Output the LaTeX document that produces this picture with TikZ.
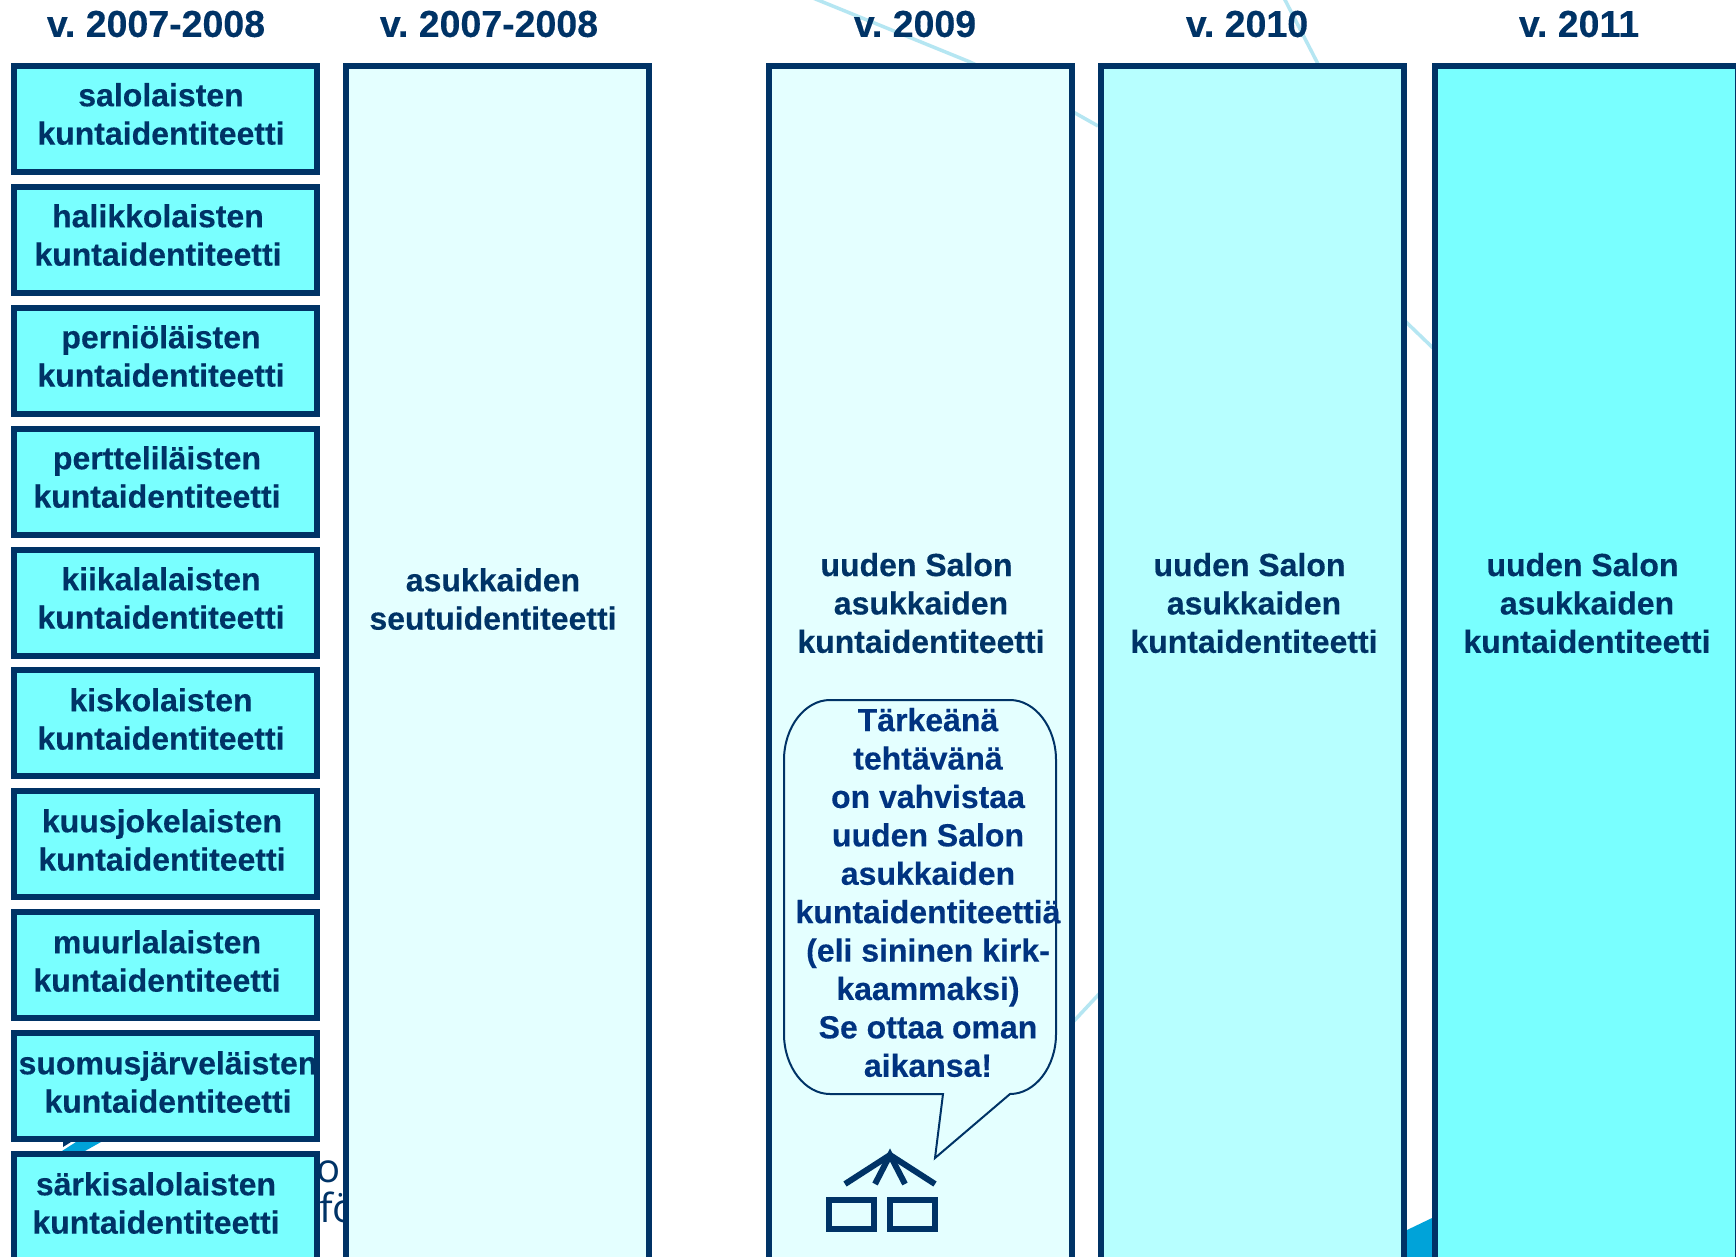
\documentclass[tikz,border=0pt]{standalone}
\usepackage{fontspec}
\setmainfont{Liberation Sans}[BoldFeatures={FakeBold=0.3}]
\newfontfamily\fragfont{Open Sans}
\frenchspacing
\definecolor{navy}{HTML}{003366}
\definecolor{calltext}{HTML}{003380}
\definecolor{paleA}{HTML}{E4FFFF}
\definecolor{paleB}{HTML}{B7FFFF}
\definecolor{paleC}{HTML}{79FFFF}
\definecolor{bgline}{HTML}{B5E6F2}
\definecolor{bgblue}{HTML}{00A3D9}
\tikzset{
  idbox/.style={draw=navy,line width=6pt,fill=paleC,minimum width=303pt,minimum height=106pt,inner sep=0pt,anchor=north west},
  yearcol/.style={draw=navy,line width=6pt,minimum width=303pt,minimum height=1300pt,inner sep=0pt,anchor=north west},
  lbl/.style={text=navy,align=center,inner sep=0pt,font=\fontsize{32}{38.4}\selectfont\bfseries,anchor=center},
  head/.style={text=navy,inner sep=0pt,font=\fontsize{37.5}{40}\selectfont\bfseries,anchor=center},
  bgstroke/.style={draw=bgline,line width=3.5pt},
  hidden/.style={text=navy,inner sep=0pt,font=\fontsize{40}{50}\selectfont\fragfont,anchor=base west},
  icon/.style={draw=navy,line width=6pt}
}
\begin{document}
\begin{tikzpicture}[x=1pt,y=-1pt]
\useasboundingbox (0,0) rectangle (1736,1257);
% background fragments
\fill[white] (0,0) rectangle (1736,1257);
\draw[bgstroke] (813,-2) -- (970,62) -- (1075,113) -- (1098,126);
\draw[bgstroke] (1284,-2) -- (1318,64);
\draw[bgstroke] (1405,321) -- (1434,349);
\draw[bgstroke] (1073,1022) -- (1100,993);
\fill[bgblue] (1407,1230) -- (1432,1218) -- (1432,1257) -- (1407,1257) -- cycle;
\fill[navy] (63,1142) -- (71,1142) -- (63,1147) -- cycle;
\fill[bgblue] (62,1151) -- (76,1142) -- (101,1142) -- (85,1151) -- cycle;
\node[hidden] (fragO) at (316,1182) {o};
\node[hidden] (fragF) at (319,1222) {fö};
% left boxes
\foreach \n/\yy in {1/63,2/184,3/305,4/426,5/547,6/667,7/788,8/909,9/1030,10/1151}
  \node[idbox] (b\n) at (10.5,\yy) {};
% columns
\node[yearcol,fill=paleA] (c2) at (343,63) {};
\node[yearcol,fill=paleA] (c3) at (766,63) {};
\node[yearcol,fill=paleB] (c4) at (1098,63) {};
\node[yearcol,fill=paleC] (c5) at (1432,63) {};
% headers
\node[head] (h1) at (156,24) {v. 2007-2008};
\node[head] (h2) at (489,24) {v. 2007-2008};
\node[head] (h3) at (915,24) {v. 2009};
\node[head] (h4) at (1247,24) {v. 2010};
\node[head] (h5) at (1579,24) {v. 2011};
% box labels
\node[lbl] (t1) at (161,114) {salolaisten\\kuntaidentiteetti};
\node[lbl] (t2) at (158,235) {halikkolaisten\\kuntaidentiteetti};
\node[lbl] (t3) at (161,356) {perniöläisten\\kuntaidentiteetti};
\node[lbl] (t4) at (157,477) {pertteliläisten\\kuntaidentiteetti};
\node[lbl] (t5) at (161,598) {kiikalalaisten\\kuntaidentiteetti};
\node[lbl] (t6) at (161,719) {kiskolaisten\\kuntaidentiteetti};
\node[lbl] (t7) at (162,840) {kuusjokelaisten\\kuntaidentiteetti};
\node[lbl] (t8) at (157,961) {muurlalaisten\\kuntaidentiteetti};
\node[lbl] (t9) at (168,1082) {suomusjärveläisten\\kuntaidentiteetti};
\node[lbl] (t10) at (156,1203) {särkisalolaisten\\kuntaidentiteetti};
% column labels
\node[lbl] (tc2) at (493,599) {asukkaiden\\seutuidentiteetti};
\node[lbl] (tc3) at (921,603) {\hspace*{-9pt}uuden Salon\\asukkaiden\\kuntaidentiteetti};
\node[lbl] (tc4) at (1254,603) {\hspace*{-9pt}uuden Salon\\asukkaiden\\kuntaidentiteetti};
\node[lbl] (tc5) at (1587,603) {\hspace*{-9pt}uuden Salon\\asukkaiden\\kuntaidentiteetti};
% callout
\path[draw=navy,line width=2pt,fill=paleA] (830,700) -- (1010,700)
  .. controls (1035,700) and (1056,727) .. (1056,760) -- (1056,1034)
  .. controls (1056,1067) and (1035,1094) .. (1010,1094)
  -- (935,1158) -- (943,1094) -- (830,1094)
  .. controls (805,1094) and (784,1067) .. (784,1034) -- (784,760)
  .. controls (784,727) and (805,700) .. (830,700) -- cycle;
\node[lbl,text=calltext] (call) at (928,892.5) {Tärkeänä\\tehtävänä\\on vahvistaa\\uuden Salon\\asukkaiden\\kuntaidentiteettiä\\(eli sininen kirk-\\kaammaksi)\\Se ottaa oman\\aikansa!};
% icon
\coordinate (apex) at (890,1155);
\coordinate (l1) at (845,1184);
\coordinate (l2) at (875,1184);
\coordinate (l3) at (905,1184);
\coordinate (l4) at (935,1184);
\draw[icon] (l1) -- (apex) -- (l4);
\draw[icon] (l2) -- (apex) -- (l3);
\draw[icon] (829,1200) rectangle (874,1229);
\draw[icon] (890,1200) rectangle (935,1229);
\end{tikzpicture}
\end{document}
